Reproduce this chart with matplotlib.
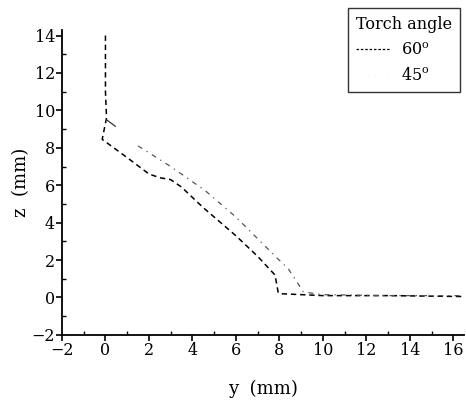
import matplotlib
matplotlib.use("Agg")
import matplotlib.pyplot as plt
from matplotlib.lines import Line2D
from matplotlib.ticker import MultipleLocator

plt.rcParams['font.family'] = ['DejaVu Serif']
plt.rcParams['mathtext.fontset'] = 'dejavuserif'

# 60 degree torch angle profile
y60 = [0.0, 0.0, 0.05, -0.15, 0.5, 1.2, 2.0, 2.5, 3.0, 3.5, 4.5, 6.0, 7.0, 7.8, 7.95, 8.1, 10.0, 13.0, 16.5]
z60 = [14.0, 11.0, 9.6, 8.45, 7.9, 7.3, 6.6, 6.4, 6.3, 5.9, 4.8, 3.3, 2.2, 1.2, 0.25, 0.2, 0.1, 0.1, 0.05]

# 45 degree torch angle profile (two visible pieces)
y45_a = [0.05, 0.45]
z45_a = [9.5, 9.15]
y45_b = [1.5, 3.0, 4.6, 6.0, 7.9, 8.4, 8.8, 9.1, 10.0, 13.0, 16.5]
z45_b = [8.1, 7.0, 5.7, 4.3, 2.1, 1.55, 0.85, 0.3, 0.15, 0.1, 0.1]

legend_title = "Torch angle"
legend_labels = ["60$^{\\mathrm{o}}$", "45$^{\\mathrm{o}}$"]

fig = plt.figure(figsize=(4.66, 4.04), dpi=100)
ax = fig.add_axes([0.133, 0.171, 0.863, 0.755])

ax.plot(y60, z60, color='black', lw=1.1, linestyle=(0, (3.5, 2.5)))
ax.plot(y45_a, z45_a, color='#333333', lw=0.9, linestyle='-')
ax.plot(y45_b, z45_b, color='#555555', lw=0.9, linestyle=(0, (4, 4, 1, 4)))

ax.set_xlim(-2, 16.5)
ax.set_ylim(-2, 14.3)
ax.xaxis.set_major_locator(MultipleLocator(2))
ax.xaxis.set_minor_locator(MultipleLocator(1))
ax.yaxis.set_major_locator(MultipleLocator(2))
ax.yaxis.set_minor_locator(MultipleLocator(1))
ax.spines['top'].set_visible(False)
ax.spines['right'].set_visible(False)
ax.spines['left'].set_linewidth(1.3)
ax.spines['bottom'].set_linewidth(1.3)
ax.tick_params(which='major', direction='out', length=4, width=1.2, labelsize=11.5, pad=1)
ax.tick_params(which='minor', direction='in', length=3, width=1.0)
ax.set_xticks(range(-2, 17, 2))
ax.set_xticklabels(["\u22122"] + [str(v) for v in range(0, 17, 2)])
ax.set_yticks(range(-2, 15, 2))
ax.set_yticklabels(["\u22122"] + [str(v) for v in range(0, 15, 2)])

ax.set_xlabel("y  (mm)", fontsize=13, labelpad=15)
ax.set_ylabel("z  (mm)", fontsize=13, labelpad=1)

handles = [Line2D([0], [0], color='black', lw=0.9, linestyle=(0, (2, 1.5))),
           Line2D([0], [0], color='#dddddd', lw=0.5, linestyle=(0, (1, 8)))]
leg = ax.legend(handles, legend_labels, title=legend_title, loc='upper right',
                bbox_to_anchor=(0.99, 1.072), fontsize=11.5, title_fontsize=11.5,
                frameon=True, fancybox=False, edgecolor='black', handlelength=2.2,
                handletextpad=0.6, borderpad=0.5, labelspacing=0.55, borderaxespad=0)
leg._legend_box.align = "left"
leg.get_frame().set_linewidth(1.0)

fig.savefig("out.png", dpi=100)
